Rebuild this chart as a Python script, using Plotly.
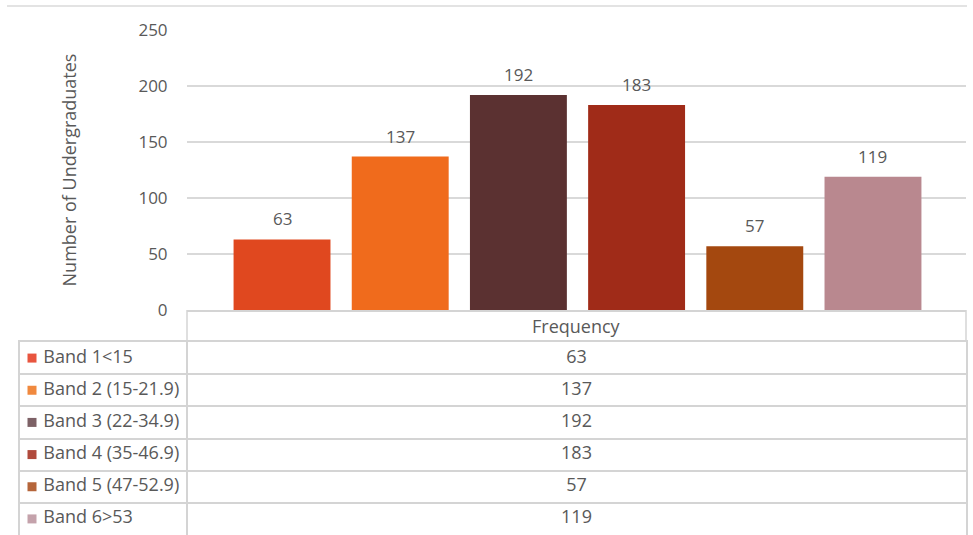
import plotly.graph_objects as go

# Frequency of undergraduates per band
bands = ["Band 1<15", "Band 2 (15-21.9)", "Band 3 (22-34.9)",
         "Band 4 (35-46.9)", "Band 5 (47-52.9)", "Band 6>53"]
counts = [63, 137, 192, 183, 57, 119]
series_name = "Frequency"
y_ticks = [0, 50, 100, 150, 200, 250]

bar_colors = ["#e0481f", "#f06b1c", "#5b3131", "#a02b18", "#a4480f", "#b9888f"]
key_colors = ["#e8553f", "#f0893e", "#7d6166", "#b04a3c", "#b5653a", "#c4a2ab"]

W, H = 973, 535
FONT = "Open Sans"
TXT = "#595959"
GRID = "#d9d9d9"
BORDER = "#d4d4d4"

# geometry (pixels)
PLOT_L, PLOT_R = 187, 966
PLOT_T, PLOT_B = 30, 310
TABLE_L = 20
HEADER_B = 342
LABEL_COL = PLOT_L - TABLE_L          # width of the band-name column
TABLE_W = PLOT_R - TABLE_L


def esc(s):
    return s.replace("<", "&lt;").replace(">", "&gt;")


fig = go.Figure()

# bars
fig.add_trace(go.Bar(
    x=bands, y=counts,
    marker=dict(color=bar_colors, line=dict(width=0)),
    showlegend=False, hoverinfo="x+y",
))

# value labels above each bar
for b, v in zip(bands, counts):
    fig.add_annotation(x=b, y=v, xref="x", yref="y", text=str(v),
                       showarrow=False, yanchor="bottom", yshift=7,
                       font=dict(family=FONT, size=17, color=TXT))

# data table: band keys + names in the first column, values in the second
fig.add_trace(go.Scatter(
    x=[12] * len(bands), y=bands, xaxis="x2", yaxis="y2",
    mode="markers+text",
    marker=dict(symbol="square", size=9, color=key_colors, line=dict(width=0)),
    text=["\u00a0" + esc(b) for b in bands], textposition="middle right",
    textfont=dict(family=FONT, size=18, color=TXT),
    showlegend=False, hoverinfo="skip", cliponaxis=False,
))
fig.add_trace(go.Scatter(
    x=[LABEL_COL + (TABLE_W - LABEL_COL) / 2] * len(bands), y=bands,
    xaxis="x2", yaxis="y2", mode="text",
    text=[str(v) for v in counts], textposition="middle center",
    textfont=dict(family=FONT, size=18, color=TXT),
    showlegend=False, hoverinfo="skip", cliponaxis=False,
))

# series header cell under the plot area
fig.add_annotation(x=0.5, y=(H - (PLOT_B + HEADER_B) / 2) / H,
                   xref="x domain", yref="paper", text=series_name,
                   showarrow=False, yanchor="middle",
                   font=dict(family=FONT, size=18, color=TXT))
for xd in (0, 1):
    fig.add_shape(type="line", xref="x domain", yref="paper",
                  x0=xd, x1=xd, y0=(H - HEADER_B) / H, y1=(H - PLOT_B) / H,
                  line=dict(color=BORDER, width=1.5))

# chart-area top border
fig.add_shape(type="line", xref="paper", yref="paper",
              x0=7 / W, x1=967 / W, y0=1 - 6 / H, y1=1 - 6 / H,
              line=dict(color="#e3e3e3", width=2))

fig.update_layout(
    width=W, height=H,
    margin=dict(l=0, r=0, t=0, b=0),
    paper_bgcolor="white", plot_bgcolor="white",
    bargap=0.18,
    font=dict(family=FONT, size=17, color=TXT),
    xaxis=dict(
        domain=[PLOT_L / W, PLOT_R / W],
        range=[-0.804, 5.787],
        showticklabels=False, showgrid=False, zeroline=False,
        showline=True, linecolor=BORDER, linewidth=1.5,
        ticks="", automargin=False, fixedrange=True,
    ),
    yaxis=dict(
        domain=[(H - PLOT_B) / H, (H - PLOT_T) / H],
        range=[0, 250],
        tickvals=y_ticks,
        showgrid=True, gridcolor=GRID, gridwidth=1.5,
        zeroline=False, showline=False,
        ticks="outside", ticklen=15, tickcolor="rgba(0,0,0,0)",
        tickfont=dict(family=FONT, size=17, color=TXT),
        title=dict(text="Number of Undergraduates", standoff=57,
                   font=dict(family=FONT, size=18, color=TXT)),
        automargin=False, fixedrange=True,
    ),
    xaxis2=dict(
        domain=[TABLE_L / W, PLOT_R / W], anchor="y2",
        range=[0, TABLE_W],
        tickvals=[LABEL_COL], showticklabels=False, ticks="",
        showgrid=True, gridcolor=BORDER, gridwidth=1.5,
        zeroline=False, showline=True, side="top",
        linecolor=BORDER, linewidth=1.5,
        automargin=False, fixedrange=True,
    ),
    yaxis2=dict(
        domain=[0, (H - HEADER_B) / H], anchor="x2",
        type="category", categoryorder="array", categoryarray=bands,
        range=[len(bands) - 0.5, -0.5],
        tickson="boundaries", showticklabels=False, ticks="",
        showgrid=True, gridcolor=BORDER, gridwidth=1.5,
        zeroline=False, showline=True, mirror=True,
        linecolor=BORDER, linewidth=1.5,
        automargin=False, fixedrange=True,
    ),
)

fig.write_html("out.html")
